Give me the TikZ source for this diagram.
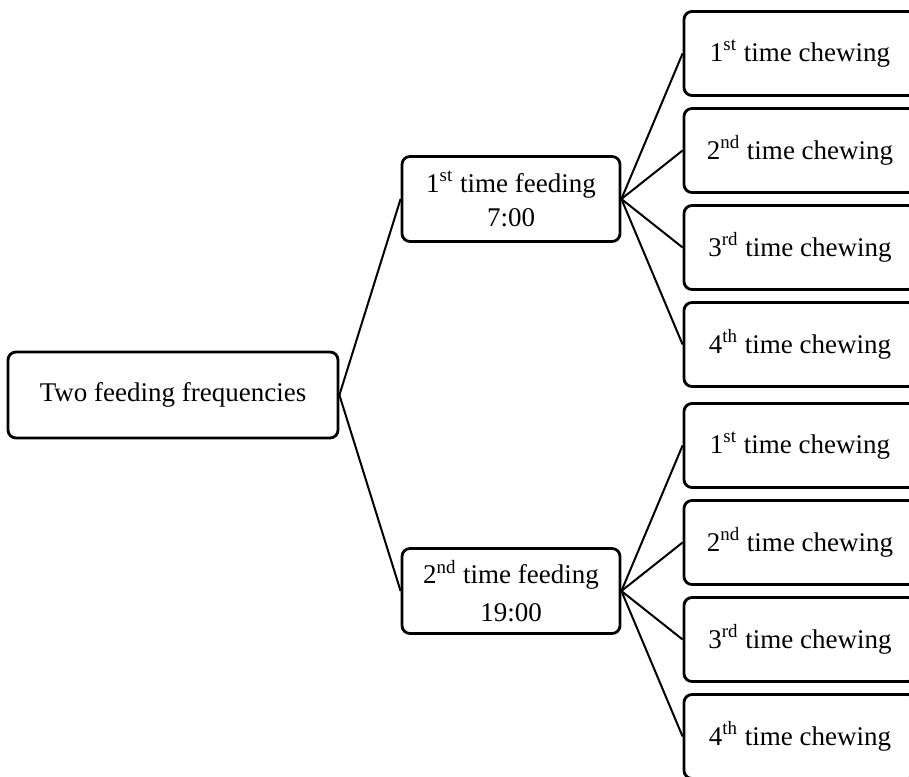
\documentclass[tikz,border=0pt]{standalone}
\usepackage{fontspec}
\setmainfont{Liberation Serif}
\begin{document}
\begin{tikzpicture}[x=0.5pt,y=0.5pt] % one unit = one pixel of the figure
\tikzstyle{mybox} = [draw, line width=1.4pt, rounded corners=4pt, inner sep=0pt, align=center, font=\fontsize{13.5}{17}\selectfont] % common box style
\tikzstyle{rootbox} = [mybox, minimum width=165pt, minimum height=43pt] % root box
\tikzstyle{feedbox} = [mybox, minimum width=109pt, minimum height=42.5pt] % feeding box
\tikzstyle{chewbox} = [mybox, minimum width=116pt, minimum height=42pt] % chewing box
\tikzstyle{level 1}=[level distance=169pt, sibling distance=196pt] % root to feeding
\tikzstyle{level 2}=[level distance=144.5pt, sibling distance=48.5pt] % feeding to chewing
\clip (-173,-381) rectangle (736,395); % figure frame
\node[rootbox] (root) {Two feeding frequencies}
    [grow'=right, edge from parent/.style={draw, line width=1pt},
     edge from parent path={(\tikzparentnode.east) -- (\tikzchildnode.west)}]
    child { node[feedbox] (fa) {1\textsuperscript{st} time feeding\\7:00}
        child { node[chewbox] (fa1) {1\textsuperscript{st} time chewing} }
        child { node[chewbox] (fa2) {2\textsuperscript{nd} time chewing} }
        child { node[chewbox] (fa3) {3\textsuperscript{rd} time chewing} }
        child { node[chewbox] (fa4) {4\textsuperscript{th} time chewing} }
    }
    child { node[feedbox] (fb) {2\textsuperscript{nd} time feeding\\[2pt]19:00}
        child { node[chewbox] (fb1) {1\textsuperscript{st} time chewing} }
        child { node[chewbox] (fb2) {2\textsuperscript{nd} time chewing} }
        child { node[chewbox] (fb3) {3\textsuperscript{rd} time chewing} }
        child { node[chewbox] (fb4) {4\textsuperscript{th} time chewing} }
    };
\end{tikzpicture}
\end{document}
